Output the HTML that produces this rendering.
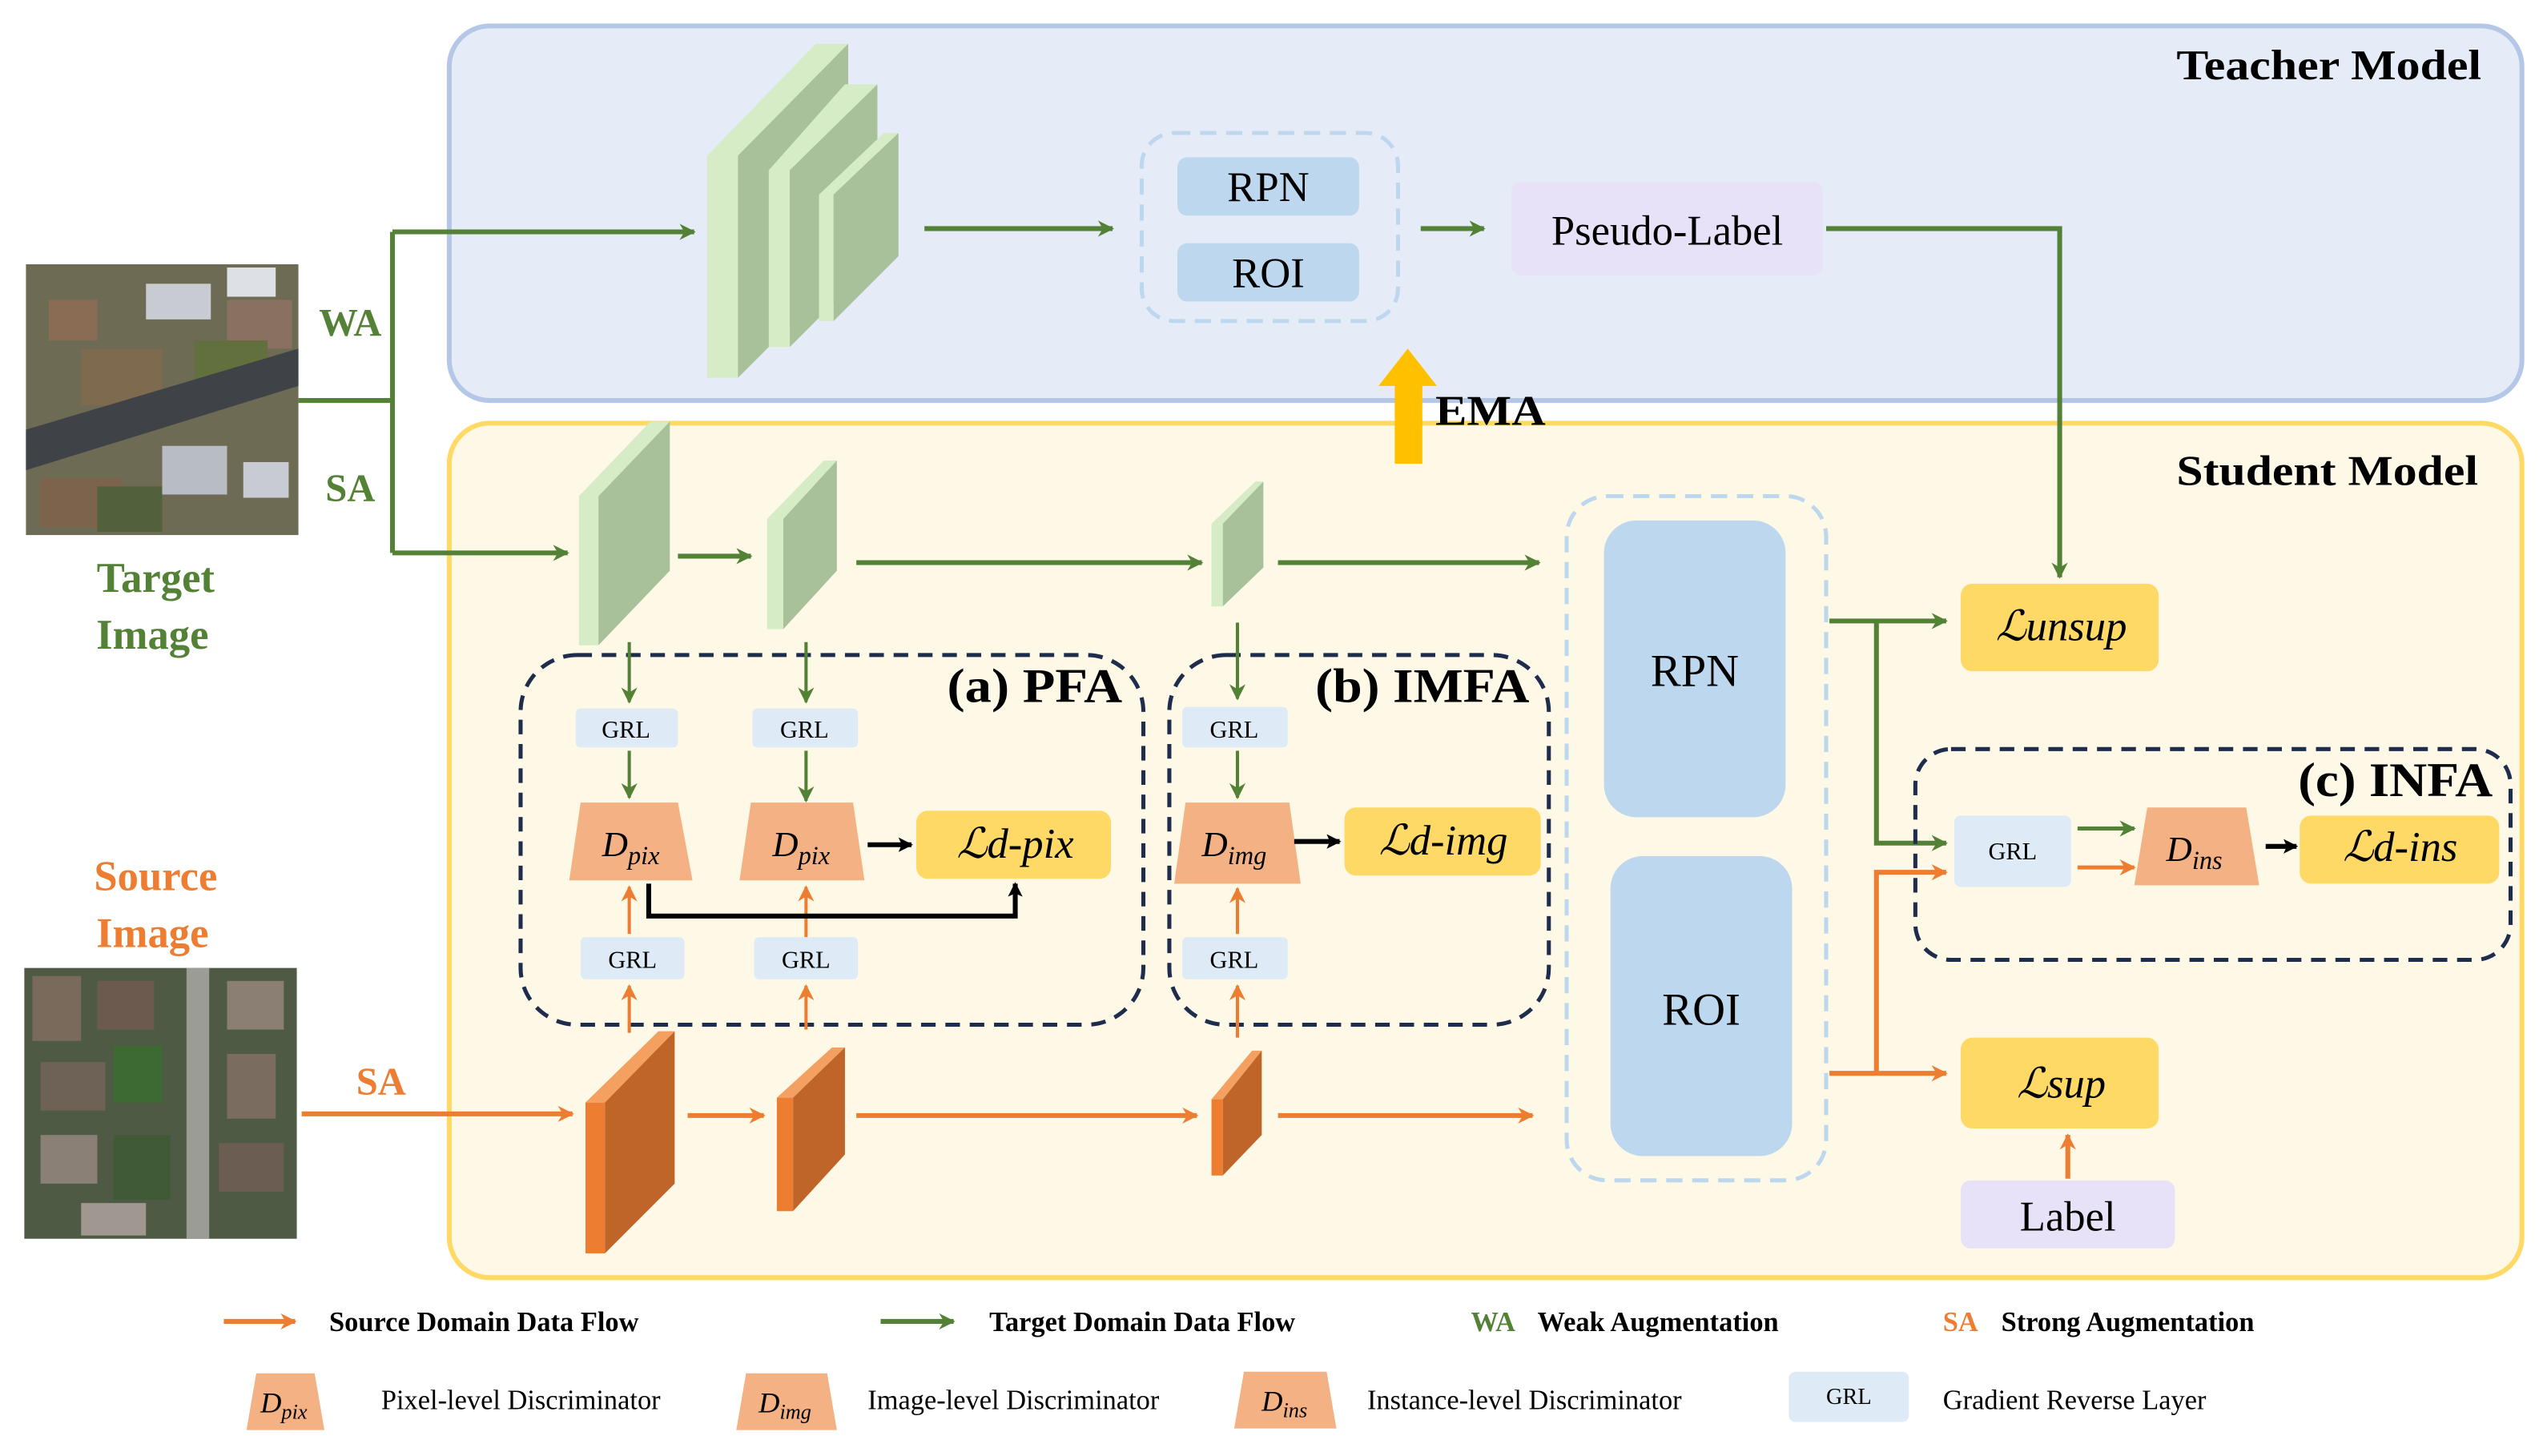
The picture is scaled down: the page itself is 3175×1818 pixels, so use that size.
<!DOCTYPE html>
<html><head><meta charset="utf-8"><style>
html,body{margin:0;padding:0;background:#fff}
svg{display:block}
svg text{font-family:"Liberation Serif","DejaVu Serif",serif}
.b{font-weight:bold}
</style></head><body>
<svg width="3175" height="1818" viewBox="0 0 1568 898" preserveAspectRatio="none" xmlns="http://www.w3.org/2000/svg" font-family="Liberation Serif, DejaVu Serif, serif">
<defs>
<marker id="ag" markerWidth="10" markerHeight="10" refX="9" refY="5" orient="auto" markerUnits="userSpaceOnUse"><path d="M0,0 L10,5 L0,10 L3,5 Z" fill="#538135"/></marker>
<marker id="ao" markerWidth="10" markerHeight="10" refX="9" refY="5" orient="auto" markerUnits="userSpaceOnUse"><path d="M0,0 L10,5 L0,10 L3,5 Z" fill="#ed7d31"/></marker>
<marker id="ak" markerWidth="9" markerHeight="9" refX="8" refY="4.5" orient="auto" markerUnits="userSpaceOnUse"><path d="M0,0 L9,4.5 L0,9 L2,4.5 Z" fill="#000"/></marker>
</defs>
<rect x="277" y="16" width="1278" height="231" rx="25" fill="#e5ecf7" stroke="#b4c7e7" stroke-width="3"/>
<rect x="277" y="261" width="1278" height="527" rx="25" fill="#fef8e6" stroke="#ffd966" stroke-width="3"/>
<text x="1530" y="49" font-size="26" class="b" text-anchor="end" textLength="188" lengthAdjust="spacingAndGlyphs">Teacher Model</text>
<text x="1528" y="299" font-size="26" class="b" text-anchor="end" textLength="186" lengthAdjust="spacingAndGlyphs">Student Model</text>

<g>
<rect x="16" y="163" width="168" height="167" fill="#6e6b55"/>
<rect x="90" y="175" width="40" height="22" fill="#c8ccd2"/>
<rect x="140" y="165" width="30" height="18" fill="#dde0e5"/>
<rect x="140" y="185" width="40" height="30" fill="#8a7060"/>
<rect x="30" y="185" width="30" height="25" fill="#8a6c55"/>
<rect x="50" y="215" width="50" height="35" fill="#7d6a4f"/>
<rect x="120" y="210" width="45" height="35" fill="#62703e"/>
<polygon points="16,265 184,215 184,238 16,290" fill="#3f4246"/>
<rect x="100" y="275" width="40" height="30" fill="#b8bcc4"/>
<rect x="150" y="285" width="28" height="22" fill="#c8ccd2"/>
<rect x="25" y="295" width="50" height="30" fill="#7e634c"/>
<rect x="60" y="300" width="40" height="28" fill="#53603c"/>
</g>
<text x="96" y="365" font-size="26" class="b" fill="#538135" text-anchor="middle">Target</text>
<text x="94" y="400" font-size="26" class="b" fill="#538135" text-anchor="middle">Image</text>

<g>
<rect x="15" y="597" width="168" height="167" fill="#4f5a45"/>
<rect x="115" y="597" width="14" height="167" fill="#9a9c95"/>
<rect x="20" y="602" width="30" height="40" fill="#7a6a5c"/>
<rect x="60" y="605" width="35" height="30" fill="#6c5a4e"/>
<rect x="140" y="605" width="35" height="30" fill="#8b7e72"/>
<rect x="25" y="655" width="40" height="30" fill="#6e6156"/>
<rect x="70" y="645" width="30" height="35" fill="#3d6a33"/>
<rect x="140" y="650" width="30" height="40" fill="#7b6c60"/>
<rect x="25" y="700" width="35" height="30" fill="#8b8076"/>
<rect x="70" y="700" width="35" height="40" fill="#3f5a35"/>
<rect x="135" y="705" width="40" height="30" fill="#6b5d52"/>
<rect x="50" y="742" width="40" height="20" fill="#a09890"/>
</g>
<text x="96" y="549" font-size="26" class="b" fill="#ed7d31" text-anchor="middle">Source</text>
<text x="94" y="584" font-size="26" class="b" fill="#ed7d31" text-anchor="middle">Image</text>

<g stroke="#538135" stroke-width="3" fill="none">
<polyline points="184,247 242,247"/>
<polyline points="242,143 242,341"/>
<line x1="242" y1="143" x2="428" y2="143" marker-end="url(#ag)"/>
<line x1="242" y1="341" x2="350" y2="341" marker-end="url(#ag)"/>
<line x1="570" y1="141" x2="686" y2="141" marker-end="url(#ag)"/>
<line x1="876" y1="141" x2="915" y2="141" marker-end="url(#ag)"/>
<polyline points="1126,141 1270,141 1270,356" marker-end="url(#ag)"/>
<line x1="418" y1="343" x2="463" y2="343" marker-end="url(#ag)"/>
<line x1="528" y1="347" x2="741" y2="347" marker-end="url(#ag)"/>
<line x1="788" y1="347" x2="949" y2="347" marker-end="url(#ag)"/>
<line x1="1128" y1="383" x2="1200" y2="383" marker-end="url(#ag)"/>
<polyline points="1157,383 1157,520 1200,520" marker-end="url(#ag)"/>
</g>
<text x="216" y="207" font-size="24" class="b" fill="#538135" text-anchor="middle">WA</text>
<text x="216" y="309" font-size="24" class="b" fill="#538135" text-anchor="middle">SA</text>

<g>
<polygon points="436,96 503,27 523,27 455,96" fill="#d5ecc7"/>
<rect x="436" y="96" width="19" height="137" fill="#d5ecc7"/>
<polygon points="455,96 523,27 523,165 455,233" fill="#a9c19a"/>
<polygon points="474,105 521,52 541,52 487,105" fill="#d5ecc7"/>
<rect x="474" y="105" width="13" height="109" fill="#d5ecc7"/>
<polygon points="487,105 541,52 541,160 487,214" fill="#a9c19a"/>
<polygon points="505,120 545,82 554,82 514,120" fill="#d5ecc7"/>
<rect x="505" y="120" width="9" height="78" fill="#d5ecc7"/>
<polygon points="514,120 554,82 554,158 514,198" fill="#a9c19a"/>
</g>
<rect x="704" y="82" width="158" height="116" rx="20" fill="none" stroke="#bdd7ee" stroke-width="2.5" stroke-dasharray="10,6"/>
<rect x="726" y="97" width="112" height="36" rx="6" fill="#bdd7ee"/>
<rect x="726" y="150" width="112" height="36" rx="6" fill="#bdd7ee"/>
<text x="782" y="124" font-size="26" text-anchor="middle">RPN</text>
<text x="782" y="177" font-size="26" text-anchor="middle">ROI</text>
<rect x="932" y="112" width="192" height="58" rx="6" fill="#e8e2f8"/>
<text x="1028" y="151" font-size="26" text-anchor="middle">Pseudo-Label</text>

<rect x="860" y="232" width="17" height="54" fill="#ffc000"/>
<polygon points="850,238 868,215 886,238" fill="#ffc000"/>
<text x="885" y="262" font-size="26" class="b" textLength="68" lengthAdjust="spacingAndGlyphs">EMA</text>

<g>
<polygon points="357,306 401,260 413,260 369,306" fill="#d5ecc7"/>
<rect x="357" y="306" width="12" height="92" fill="#d5ecc7"/>
<polygon points="369,306 413,260 413,352 369,398" fill="#a9c19a"/>
<polygon points="473,320 508,284 516,284 483,320" fill="#d5ecc7"/>
<rect x="473" y="320" width="10" height="68" fill="#d5ecc7"/>
<polygon points="483,320 516,284 516,352 483,388" fill="#a9c19a"/>
<polygon points="747,323 774,297 779,297 754,323" fill="#d5ecc7"/>
<rect x="747" y="323" width="7" height="51" fill="#d5ecc7"/>
<polygon points="754,323 779,297 779,350 754,374" fill="#a9c19a"/>
</g>
<g>
<polygon points="361,680 406,636 416,636 373,680" fill="#f4a060"/>
<rect x="361" y="680" width="12" height="93" fill="#ed7d31"/>
<polygon points="373,680 416,636 416,730 373,773" fill="#c0652a"/>
<polygon points="479,677 513,646 521,646 489,677" fill="#f4a060"/>
<rect x="479" y="677" width="10" height="70" fill="#ed7d31"/>
<polygon points="489,677 521,646 521,712 489,747" fill="#c0652a"/>
<polygon points="747,678 772,648 778,648 754,678" fill="#f4a060"/>
<rect x="747" y="678" width="7" height="47" fill="#ed7d31"/>
<polygon points="754,678 778,648 778,700 754,725" fill="#c0652a"/>
</g>
<g stroke="#ed7d31" stroke-width="3" fill="none">
<line x1="186" y1="687" x2="353" y2="687" marker-end="url(#ao)"/>
<line x1="424" y1="688" x2="471" y2="688" marker-end="url(#ao)"/>
<line x1="528" y1="688" x2="738" y2="688" marker-end="url(#ao)"/>
<line x1="788" y1="688" x2="945" y2="688" marker-end="url(#ao)"/>
<line x1="1128" y1="662" x2="1200" y2="662" marker-end="url(#ao)"/>
<polyline points="1157,662 1157,538 1200,538" marker-end="url(#ao)"/>
<line x1="1275" y1="727" x2="1275" y2="700" marker-end="url(#ao)"/>
</g>
<text x="235" y="675" font-size="24" class="b" fill="#ed7d31" text-anchor="middle">SA</text>

<rect x="321" y="404" width="384" height="228" rx="35" fill="none" stroke="#1f2d4d" stroke-width="2.5" stroke-dasharray="9,6"/>
<rect x="721" y="404" width="234" height="228" rx="35" fill="none" stroke="#1f2d4d" stroke-width="2.5" stroke-dasharray="9,6"/>
<text x="638" y="433" font-size="30" class="b" text-anchor="middle" textLength="108" lengthAdjust="spacingAndGlyphs">(a) PFA</text>
<text x="877" y="433" font-size="30" class="b" text-anchor="middle" textLength="132" lengthAdjust="spacingAndGlyphs">(b) IMFA</text>
<g fill="#deebf7">
<rect x="355" y="437" width="63" height="24" rx="3"/>
<rect x="464" y="437" width="65" height="24" rx="3"/>
<rect x="729" y="436" width="65" height="25" rx="3"/>
<rect x="358" y="578" width="64" height="26" rx="3"/>
<rect x="465" y="578" width="64" height="26" rx="3"/>
<rect x="729" y="578" width="65" height="26" rx="3"/>
</g>
<g font-size="15" text-anchor="middle">
<text x="386" y="455">GRL</text><text x="496" y="455">GRL</text><text x="761" y="455">GRL</text>
<text x="390" y="597">GRL</text><text x="497" y="597">GRL</text><text x="761" y="597">GRL</text>
</g>
<g stroke="#538135" stroke-width="2" fill="none">
<line x1="388" y1="396" x2="388" y2="433" marker-end="url(#ag)"/>
<line x1="497" y1="396" x2="497" y2="433" marker-end="url(#ag)"/>
<line x1="763" y1="384" x2="763" y2="431" marker-end="url(#ag)"/>
<line x1="388" y1="463" x2="388" y2="492" marker-end="url(#ag)"/>
<line x1="497" y1="463" x2="497" y2="494" marker-end="url(#ag)"/>
<line x1="763" y1="463" x2="763" y2="492" marker-end="url(#ag)"/>
</g>
<g stroke="#ed7d31" stroke-width="2" fill="none">
<line x1="388" y1="576" x2="388" y2="547" marker-end="url(#ao)"/>
<line x1="497" y1="578" x2="497" y2="547" marker-end="url(#ao)"/>
<line x1="763" y1="576" x2="763" y2="548" marker-end="url(#ao)"/>
<line x1="388" y1="637" x2="388" y2="608" marker-end="url(#ao)"/>
<line x1="497" y1="635" x2="497" y2="608" marker-end="url(#ao)"/>
<line x1="763" y1="640" x2="763" y2="608" marker-end="url(#ao)"/>
</g>
<g fill="#f4b183">
<polygon points="358,495 418,495 427,543 351,543"/>
<polygon points="463,495 526,495 533,543 456,543"/>
<polygon points="731,495 795,495 802,545 724,545"/>
<polygon points="1324,498 1385,498 1393,546 1316,546"/>
</g>
<g font-style="italic" font-size="22" text-anchor="middle">
<text x="389" y="528">D<tspan font-size="16" dy="5">pix</tspan></text>
<text x="494" y="528">D<tspan font-size="16" dy="5">pix</tspan></text>
<text x="761" y="528">D<tspan font-size="16" dy="5">img</tspan></text>
<text x="1353" y="531">D<tspan font-size="16" dy="5">ins</tspan></text>
</g>
<g stroke="#000" stroke-width="3" fill="none">
<line x1="535" y1="521" x2="562" y2="521" marker-end="url(#ak)"/>
<line x1="798" y1="519" x2="826" y2="519" marker-end="url(#ak)"/>
<line x1="1397" y1="522" x2="1416" y2="522" marker-end="url(#ak)"/>
<polyline points="400,545 400,565 626,565 626,545" marker-end="url(#ak)"/>
</g>
<g fill="#ffd966">
<rect x="565" y="500" width="120" height="42" rx="7"/>
<rect x="829" y="498" width="121" height="42" rx="7"/>
<rect x="1418" y="503" width="123" height="42" rx="7"/>
<rect x="1209" y="360" width="122" height="54" rx="7"/>
<rect x="1209" y="640" width="122" height="56" rx="7"/>
</g>
<g font-style="italic" font-size="26" text-anchor="middle">
<text x="626" y="529">ℒd-pix</text>
<text x="890" y="527">ℒd-img</text>
<text x="1480" y="531">ℒd-ins</text>
<text x="1271" y="395">ℒunsup</text>
<text x="1271" y="677">ℒsup</text>
</g>
<rect x="1209" y="728" width="132" height="42" rx="6" fill="#e8e2f8"/>
<text x="1275" y="759" font-size="26" text-anchor="middle">Label</text>

<rect x="966" y="306" width="160" height="422" rx="25" fill="none" stroke="#bdd7ee" stroke-width="2.5" stroke-dasharray="10,6"/>
<rect x="989" y="321" width="112" height="183" rx="20" fill="#bdd7ee"/>
<rect x="993" y="528" width="112" height="185" rx="20" fill="#bdd7ee"/>
<text x="1045" y="423" font-size="28" text-anchor="middle">RPN</text>
<text x="1049" y="632" font-size="28" text-anchor="middle">ROI</text>

<rect x="1181" y="462" width="367" height="130" rx="22" fill="none" stroke="#1f2d4d" stroke-width="2.5" stroke-dasharray="9,6"/>
<text x="1477" y="491" font-size="30" class="b" text-anchor="middle" textLength="120" lengthAdjust="spacingAndGlyphs">(c) INFA</text>
<rect x="1205" y="503" width="72" height="44" rx="4" fill="#deebf7"/>
<text x="1241" y="530" font-size="15" text-anchor="middle">GRL</text>
<line x1="1281" y1="511" x2="1316" y2="511" stroke="#538135" stroke-width="2.5" marker-end="url(#ag)"/>
<line x1="1281" y1="535" x2="1316" y2="535" stroke="#ed7d31" stroke-width="2.5" marker-end="url(#ao)"/>

<line x1="138" y1="815" x2="182" y2="815" stroke="#ed7d31" stroke-width="3" marker-end="url(#ao)"/>
<text x="203" y="821" font-size="17" class="b">Source Domain Data Flow</text>
<line x1="543" y1="815" x2="588" y2="815" stroke="#538135" stroke-width="3" marker-end="url(#ag)"/>
<text x="610" y="821" font-size="17" class="b">Target Domain Data Flow</text>
<text x="907" y="821" font-size="17" class="b" fill="#538135">WA</text>
<text x="948" y="821" font-size="17" class="b">Weak Augmentation</text>
<text x="1198" y="821" font-size="17" class="b" fill="#ed7d31">SA</text>
<text x="1234" y="821" font-size="17" class="b">Strong Augmentation</text>
<g fill="#f4b183">
<polygon points="158,847 194,847 200,882 152,882"/>
<polygon points="460,847 510,847 516,882 454,882"/>
<polygon points="767,846 818,846 824,881 761,881"/>
</g>
<g font-style="italic" font-size="18" text-anchor="middle">
<text x="175" y="871">D<tspan font-size="13" dy="4">pix</tspan></text>
<text x="484" y="871">D<tspan font-size="13" dy="4">img</tspan></text>
<text x="792" y="870">D<tspan font-size="13" dy="4">ins</tspan></text>
</g>
<text x="235" y="869" font-size="17">Pixel-level Discriminator</text>
<text x="535" y="869" font-size="17">Image-level Discriminator</text>
<text x="843" y="869" font-size="17">Instance-level Discriminator</text>
<rect x="1103" y="846" width="74" height="31" rx="4" fill="#deebf7"/>
<text x="1140" y="866" font-size="14" text-anchor="middle">GRL</text>
<text x="1198" y="869" font-size="17">Gradient Reverse Layer</text>
</svg>
</body></html>
